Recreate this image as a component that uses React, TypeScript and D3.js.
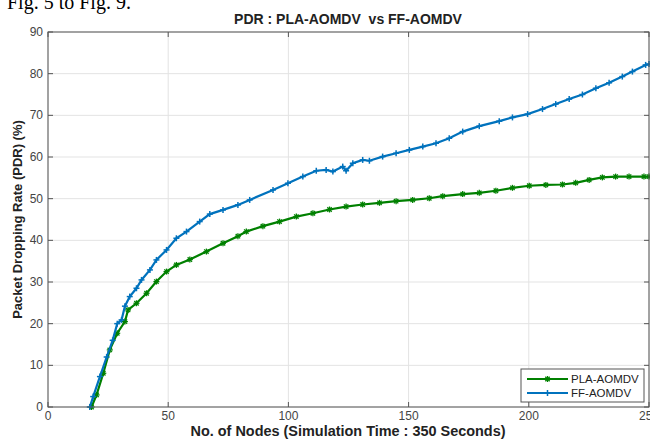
import React from "react";
import * as d3 from "d3";

const plaX = [18.1, 20.2, 23, 25.7, 28.8, 32, 33.3, 36.8, 41, 45.1, 49.3, 53.4, 59, 65.9, 72.8, 79, 82.5, 89.4, 96.3, 103.3, 110.2, 117.1, 124, 130.9, 137.9, 144.8, 151.7, 158.6, 164.2, 172.5, 179.4, 186.3, 193.2, 200.2, 207.1, 214, 219.5, 225.1, 230.6, 236.1, 241.7, 247.9, 250];
const plaY = [0, 2.9, 8.1, 13.7, 17.7, 20.5, 23.3, 24.9, 27.3, 30.1, 32.5, 34.1, 35.4, 37.3, 39.3, 41, 42.1, 43.4, 44.5, 45.7, 46.5, 47.4, 48.1, 48.6, 49, 49.4, 49.7, 50.1, 50.6, 51.1, 51.4, 51.9, 52.6, 53.1, 53.3, 53.4, 53.8, 54.5, 55.1, 55.3, 55.3, 55.3, 55.3];
const ffX = [17.4, 18.8, 21.6, 24.4, 26.9, 28.8, 30.6, 32, 34, 36.8, 38.9, 42.4, 45.1, 49.3, 53.4, 57.6, 63.1, 67.3, 72.8, 79, 83.9, 93.6, 99.8, 106, 111.6, 115.7, 118.5, 122.6, 124, 126.8, 130.9, 133.7, 139.2, 144.8, 150.3, 155.9, 161.4, 166.9, 172.5, 179.4, 187.7, 193.2, 199.5, 205.7, 211.2, 216.8, 222.3, 227.9, 233.4, 238.9, 243.1, 248.6, 250];
const ffY = [0, 2.5, 7.3, 12, 16, 20, 20.9, 24.2, 26.5, 28.5, 30.5, 32.9, 35.3, 37.7, 40.5, 42.1, 44.5, 46.3, 47.3, 48.5, 49.7, 52.1, 53.7, 55.3, 56.7, 56.9, 56.5, 57.7, 56.7, 58.5, 59.3, 59.1, 60.1, 60.9, 61.7, 62.5, 63.3, 64.5, 66.1, 67.4, 68.6, 69.5, 70.3, 71.5, 72.7, 73.9, 75, 76.5, 77.8, 79.3, 80.5, 82.1, 82.3];

const xTicks = [0, 50, 100, 150, 200, 250];
const yTicks = [0, 10, 20, 30, 40, 50, 60, 70, 80, 90];
const seriesNames = ["PLA-AOMDV", "FF-AOMDV"];

const L = 48, R = 649, T = 32, B = 407;
const GREEN = "#008000";
const BLUE = "#0072BD";
const AXIS = "#555";
const FONT = "'Liberation Sans', Arial, sans-serif";

export default function App() {
  const x = d3.scaleLinear().domain([0, 250]).range([L, R]);
  const y = d3.scaleLinear().domain([0, 90]).range([B, T]);
  const line = d3.line<[number, number]>().x(d => x(d[0])).y(d => y(d[1]));
  const pla: [number, number][] = plaX.map((v, i) => [v, plaY[i]]);
  const ff: [number, number][] = ffX.map((v, i) => [v, ffY[i]]);

  const star = (cx: number, cy: number, color: string, k: string) => (
    <g key={k} stroke={color} strokeWidth={1.3}>
      <line x1={cx - 3} y1={cy} x2={cx + 3} y2={cy} />
      <line x1={cx} y1={cy - 3} x2={cx} y2={cy + 3} />
      <line x1={cx - 2.2} y1={cy - 2.2} x2={cx + 2.2} y2={cy + 2.2} />
      <line x1={cx - 2.2} y1={cy + 2.2} x2={cx + 2.2} y2={cy - 2.2} />
    </g>
  );
  const plus = (cx: number, cy: number, color: string, k: string) => (
    <g key={k} stroke={color} strokeWidth={1.5}>
      <line x1={cx - 3} y1={cy} x2={cx + 3} y2={cy} />
      <line x1={cx} y1={cy - 3} x2={cx} y2={cy + 3} />
    </g>
  );

  return (
    <svg width={650} height={446} style={{ position: "absolute", left: 0, top: 0, background: "#fff" }}>
      <rect x={0} y={0} width={650} height={446} fill="#fff" />
      <text x={7} y={9} fontFamily="'Liberation Serif', 'Times New Roman', serif" fontSize={20} fill="#000">Fig. 5 to Fig. 9.</text>
      {/* grid */}
      {xTicks.map(t => (
        <line key={"gx" + t} x1={x(t)} x2={x(t)} y1={T} y2={B} stroke="#e3e3e3" strokeWidth={1} />
      ))}
      {yTicks.map(t => (
        <line key={"gy" + t} x1={L} x2={R} y1={y(t)} y2={y(t)} stroke="#e3e3e3" strokeWidth={1} />
      ))}
      {/* lines */}
      <path d={line(pla) || ""} fill="none" stroke={GREEN} strokeWidth={2.2} />
      {pla.map((d, i) => star(x(d[0]), y(d[1]), GREEN, "p" + i))}
      <path d={line(ff) || ""} fill="none" stroke={BLUE} strokeWidth={2.2} />
      {ff.map((d, i) => plus(x(d[0]), y(d[1]), BLUE, "f" + i))}
      {/* box */}
      <rect x={L} y={T} width={R - L} height={B - T} fill="none" stroke={AXIS} strokeWidth={1} />
      {xTicks.map(t => (
        <g key={"tx" + t}>
          <line x1={x(t)} x2={x(t)} y1={B} y2={B - 5} stroke={AXIS} />
          <line x1={x(t)} x2={x(t)} y1={T} y2={T + 5} stroke={AXIS} />
          <text x={x(t)} y={B + 13} textAnchor="middle" fontFamily={FONT} fontSize={12} fill="#444">{t}</text>
        </g>
      ))}
      {yTicks.map(t => (
        <g key={"ty" + t}>
          <line x1={L} x2={L + 5} y1={y(t)} y2={y(t)} stroke={AXIS} />
          <line x1={R} x2={R - 5} y1={y(t)} y2={y(t)} stroke={AXIS} />
          <text x={L - 5} y={y(t) + 4} textAnchor="end" fontFamily={FONT} fontSize={12} fill="#444">{t}</text>
        </g>
      ))}
      {/* titles */}
      <text x={348} y={24} textAnchor="middle" fontFamily={FONT} fontWeight="bold" fontSize={14} fill="#222" style={{ whiteSpace: "pre" }}>{"PDR : PLA-AOMDV  vs FF-AOMDV"}</text>
      <text x={348} y={436} textAnchor="middle" fontFamily={FONT} fontWeight="bold" fontSize={14} fill="#222" textLength={315} lengthAdjust="spacingAndGlyphs">No. of Nodes (Simulation Time : 350 Seconds)</text>
      <text transform={`translate(22, ${(T + B) / 2}) rotate(-90)`} textAnchor="middle" fontFamily={FONT} fontWeight="bold" fontSize={13} fill="#222">Packet Dropping Rate (PDR) (%)</text>
      {/* legend */}
      <rect x={521} y={369} width={123} height={33} fill="#fff" stroke={AXIS} strokeWidth={1} />
      <line x1={527} x2={568} y1={379} y2={379} stroke={GREEN} strokeWidth={2.2} />
      {star(547.5, 379, GREEN, "lg1")}
      <text x={571} y={383} fontFamily={FONT} fontSize={11.5} fill="#222">{seriesNames[0]}</text>
      <line x1={527} x2={568} y1={393} y2={393} stroke={BLUE} strokeWidth={2.2} />
      {plus(547.5, 393, BLUE, "lg2")}
      <text x={571} y={397} fontFamily={FONT} fontSize={11.5} fill="#222">{seriesNames[1]}</text>
    </svg>
  );
}
